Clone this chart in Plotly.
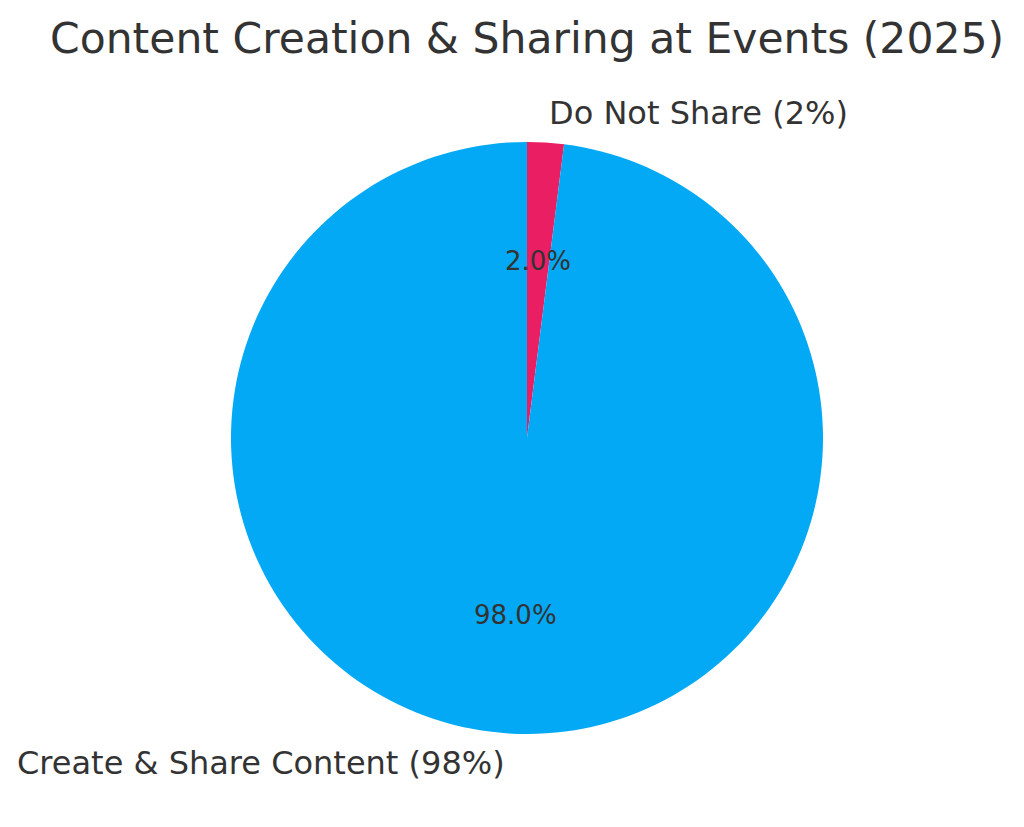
import math
import plotly.graph_objects as go

# ---- data ----
categories = ["Do Not Share", "Create & Share Content"]
values = [2, 98]
label_texts = ["Do Not Share (2%)", "Create & Share Content (98%)"]
colors = ["#E91E63", "#03A9F4"]
title_text = "Content Creation & Sharing at Events (2025)"

# ---- layout geometry (pixels) ----
W, H = 1024, 827
OFF = 8  # page body margin
CX, CY, R = 527 - OFF, 438 - OFF, 296
TEXT_COLOR = "#333333"
FONT = "DejaVu Sans"

fig = go.Figure()
fig.add_trace(go.Pie(
    labels=categories,
    values=values,
    sort=False,
    direction="clockwise",
    rotation=0,
    marker=dict(colors=colors, line=dict(width=0)),
    textinfo="none",
    hoverinfo="label+percent",
    showlegend=False,
    domain=dict(x=[(CX - R) / W, (CX + R) / W],
                y=[1 - (CY + R) / H, 1 - (CY - R) / H]),
))

def px2paper(x, y):
    return x / W, 1 - y / H

annotations = []
total = sum(values)
start = 90.0
for cat, v, lab in zip(categories, values, label_texts):
    frac = v / total
    mid = start - frac * 360 / 2
    start -= frac * 360
    a = math.radians(mid)
    # outer label at 1.1 r
    lx = CX + 1.1 * R * math.cos(a)
    ly = CY - 1.1 * R * math.sin(a)
    x, y = px2paper(lx, ly)
    annotations.append(dict(
        x=x, y=y, xref="paper", yref="paper", text=lab, showarrow=False,
        xanchor="left" if math.cos(a) > 0 else "right", yanchor="middle",
        font=dict(family=FONT, size=32, color=TEXT_COLOR)))
    # percentage at 0.6 r
    px_ = CX + 0.6 * R * math.cos(a)
    py_ = CY - 0.6 * R * math.sin(a)
    x, y = px2paper(px_, py_)
    annotations.append(dict(
        x=x, y=y, xref="paper", yref="paper", text=f"{frac * 100:.1f}%",
        showarrow=False, xanchor="center", yanchor="middle",
        font=dict(family=FONT, size=26, color=TEXT_COLOR)))

tx, ty = px2paper(CX, 38 - OFF)
annotations.append(dict(
    x=tx, y=ty, xref="paper", yref="paper", text=title_text, showarrow=False,
    xanchor="center", yanchor="middle",
    font=dict(family=FONT, size=42.5, color=TEXT_COLOR)))

fig.update_layout(
    width=W, height=H,
    margin=dict(l=0, r=0, t=0, b=0),
    paper_bgcolor="white", plot_bgcolor="white",
    annotations=annotations,
)

fig.write_html("out.html")
